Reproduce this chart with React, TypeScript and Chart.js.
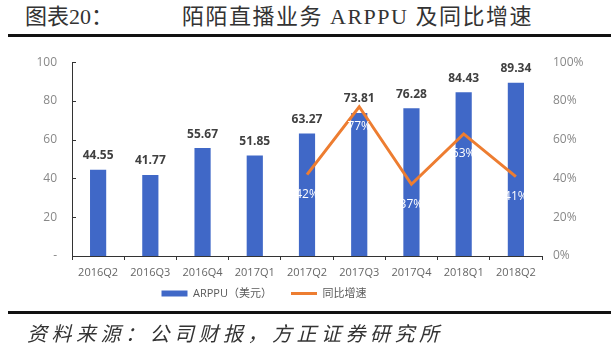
import React, { useEffect, useRef } from 'react';
import { Chart, registerables } from 'chart.js';

Chart.register(...registerables);

const categories = ['2016Q2', '2016Q3', '2016Q4', '2017Q1', '2017Q2', '2017Q3', '2017Q4', '2018Q1', '2018Q2'];
const arppuValues = [44.55, 41.77, 55.67, 51.85, 63.27, 73.81, 76.28, 84.43, 89.34];
const yoyGrowth: (number | null)[] = [null, null, null, null, 0.42, 0.77, 0.37, 0.63, 0.41];
const barLabel = 'ARPPU（美元）';
const lineLabel = '同比增速';
const titleLeft = '图表20：';
const titleMain = '陌陌直播业务 ARPPU 及同比增速';
const sourceText = '资料来源：公司财报，方正证券研究所';

const BAR_COLOR = '#4068C7';
const LINE_COLOR = '#ED7D31';
const FONT = '"Open Sans", "Noto Sans CJK SC", sans-serif';

const valueLabels = {
  id: 'valueLabels',
  afterDatasetsDraw(chart: any) {
    const ctx = chart.ctx;
    ctx.save();
    const barMeta = chart.getDatasetMeta(0);
    ctx.font = `bold 12px ${FONT}`;
    ctx.fillStyle = '#404040';
    ctx.textAlign = 'center';
    ctx.textBaseline = 'middle';
    barMeta.data.forEach((el: any, i: number) => {
      ctx.fillText(arppuValues[i].toFixed(2), el.x, el.y - 14);
    });
    const lineMeta = chart.getDatasetMeta(1);
    ctx.font = `12px ${FONT}`;
    ctx.fillStyle = '#ffffff';
    lineMeta.data.forEach((el: any, i: number) => {
      const v = yoyGrowth[i];
      if (v === null || v === undefined) return;
      ctx.fillText(Math.round(v * 100) + '%', el.x, el.y + 20);
    });
    ctx.restore();
  },
  afterDraw(chart: any) {
    const y = chart.scales.y;
    const ctx = chart.ctx;
    ctx.save();
    ctx.strokeStyle = '#333';
    ctx.lineWidth = 1;
    y.ticks.forEach((_t: any, i: number) => {
      const py = Math.round(y.getPixelForTick(i)) + 0.5;
      ctx.beginPath();
      ctx.moveTo(y.right, py);
      ctx.lineTo(y.right + 4, py);
      ctx.stroke();
    });
    ctx.restore();
  },
};

const legendShift = {
  id: 'legendShift',
  afterLayout(chart: any) {
    const l = chart.legend;
    if (!l) return;
    l.left -= 44;
    l.right -= 44;
    l.top -= 13;
    l.bottom -= 13;
  },
};

export default function App() {
  const ref = useRef<HTMLCanvasElement>(null);
  useEffect(() => {
    if (!ref.current) return;
    const chart = new Chart(ref.current, {
      type: 'bar',
      data: {
        labels: categories,
        datasets: [
          {
            type: 'bar',
            label: barLabel,
            data: arppuValues,
            backgroundColor: BAR_COLOR,
            yAxisID: 'y',
            order: 1,
            barPercentage: 0.31,
            categoryPercentage: 1,
          } as any,
          {
            type: 'line',
            label: lineLabel,
            data: yoyGrowth,
            borderColor: LINE_COLOR,
            backgroundColor: LINE_COLOR,
            borderWidth: 3,
            pointRadius: 0,
            tension: 0,
            yAxisID: 'y1',
            order: 0,
          } as any,
        ],
      },
      options: {
        animation: false,
        responsive: false,
        devicePixelRatio: 1,
        layout: { padding: { top: 17, bottom: 0, left: 0, right: 0 } },
        plugins: {
          tooltip: { enabled: false },
          legend: {
            position: 'bottom',
            labels: {
              usePointStyle: true,
              pointStyleWidth: 26,
              boxHeight: 6,
              padding: 19,
              color: '#595959',
              font: { size: 11, family: FONT },
              generateLabels: () => [
                { text: barLabel, fillStyle: BAR_COLOR, strokeStyle: BAR_COLOR, lineWidth: 0, pointStyle: 'rect', hidden: false, datasetIndex: 0, fontColor: '#595959' },
                { text: lineLabel, fillStyle: LINE_COLOR, strokeStyle: LINE_COLOR, lineWidth: 3, pointStyle: 'line', hidden: false, datasetIndex: 1, fontColor: '#595959' },
              ] as any,
            },
          },
        },
        scales: {
          x: {
            grid: { display: true, drawOnChartArea: false, drawTicks: true, tickLength: 4, color: '#333', offset: true },
            border: { display: true, color: '#333', width: 1 },
            ticks: { color: '#666', font: { size: 11, family: FONT }, padding: 6, maxRotation: 0, autoSkip: false },
            afterFit: (s: any) => { s.height = 26; },
          },
          y: {
            position: 'left',
            min: 0,
            max: 100,
            ticks: {
              stepSize: 20,
              color: '#888',
              font: { size: 12, family: FONT },
              padding: 15,
              callback: (v: any) => (v === 0 ? '-' : String(v)),
            },
            grid: { display: false, drawTicks: false },
            border: { display: true, color: '#333', width: 1 },
            afterFit: (s: any) => { s.width = 72; },
          },
          y1: {
            position: 'right',
            min: 0,
            max: 1,
            ticks: {
              stepSize: 0.2,
              color: '#888',
              font: { size: 12, family: FONT },
              padding: 11,
              callback: (v: any) => Math.round(Number(v) * 100) + '%',
            },
            grid: { display: false, drawTicks: false },
            border: { display: false },
            afterFit: (s: any) => { s.width = 74; },
          },
        },
      },
      plugins: [valueLabels, legendShift],
    });
    return () => chart.destroy();
  }, []);

  const rule: React.CSSProperties = { position: 'absolute', left: 8, width: 603, height: 3, background: '#111' };
  return (
    <div style={{ position: 'absolute', left: 0, top: 0, width: 616, height: 352, background: '#fff', overflow: 'hidden' }}>
      <canvas ref={ref} width={616} height={282} style={{ position: 'absolute', left: 0, top: 40, width: 616, height: 282 }} />
      <div style={{ position: 'absolute', left: 25, top: 3, fontSize: 22, lineHeight: '28px', fontFamily: '"Liberation Serif", "Noto Sans CJK SC", serif', color: '#333', whiteSpace: 'nowrap' }}>{titleLeft}</div>
      <div style={{ position: 'absolute', left: 182, top: 3, fontSize: 22, lineHeight: '28px', letterSpacing: '1.5px', fontFamily: '"Liberation Serif", "Noto Sans CJK SC", serif', color: '#333', whiteSpace: 'nowrap' }}>{titleMain}</div>
      <div style={{ ...rule, top: 34 }} />
      <div style={{ ...rule, top: 311 }} />
      <div style={{ position: 'absolute', left: 27, top: 320, fontSize: 20, lineHeight: '26px', letterSpacing: '4.5px', fontStyle: 'italic', fontFamily: '"Noto Sans CJK SC", sans-serif', color: '#333', whiteSpace: 'nowrap' }}>{sourceText}</div>
    </div>
  );
}
